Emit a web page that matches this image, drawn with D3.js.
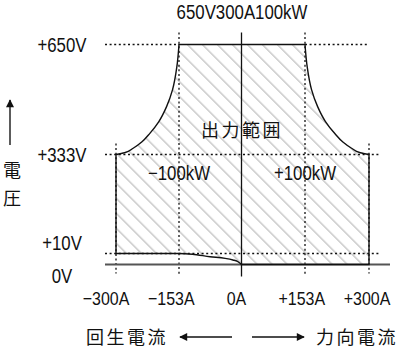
<!DOCTYPE html>
<html>
<head>
<meta charset="utf-8">
<script src="https://cdn.jsdelivr.net/npm/d3@7"></script>
<style>
  html, body { margin: 0; padding: 0; background: #fff; }
  svg { display: block; }
  .num { font-family: "Liberation Sans Narrow", "Arial Narrow", "Liberation Sans", sans-serif; font-size: 20px; fill: #111; }
  .xlab { font-size: 19px; }
  .cjk { font-family: "Noto Sans CJK JP", sans-serif; font-size: 18px; fill: #111; }
</style>
</head>
<body>
<svg id="chart" width="400" height="351"></svg>
<script>
// ---- data ----
const title = "650V300A100kW";
const currentTicks = [-300, -153, 0, 153, 300];
const currentLabels = ["−300A", "−153A", "0A", "+153A", "+300A"];
const voltageTicks = [0, 10, 333, 650];
const voltageLabels = ["0V", "+10V", "+333V", "+650V"];
// boundary of the output range (current A, voltage V)
const leftCurveI  = [-300, -280, -260, -240, -221, -200, -182, -168, -158, -153];
const leftCurveV  = [333, 338, 351, 369, 394, 428, 471, 520, 586, 650];
const rightCurveI = [153, 158, 168, 182, 200, 221, 240, 260, 280, 300];
const rightCurveV = [650, 586, 520, 471, 428, 394, 369, 351, 338, 333];
const bottomCurveI = [0, -10, -21, -40, -77, -120, -153, -300];
const bottomCurveV = [0, 2.8, 4.1, 5.6, 7.1, 9.3, 10, 10];
const powerLabels = ["−100kW", "+100kW"];
const powerAt = [-153, 153];
const regionLabel = "出力範囲";
const axisTitleY = ["電", "圧"];
const regenLabel = "回生電流";
const powerRunLabel = "力向電流";

// ---- scales ----
const x = d3.scaleLinear().domain([-300, -153, 0, 153, 300]).range([116, 179, 241.5, 305, 369]);
const y = d3.scaleLinear().domain([0, 10, 333, 650]).range([264.5, 253.5, 154.5, 44.5]);
const xLab = d3.scalePoint().domain(currentLabels).range([106, 367]);

const svg = d3.select("#chart");
const defs = svg.append("defs");
defs.append("pattern")
  .attr("id", "hatch")
  .attr("patternUnits", "userSpaceOnUse")
  .attr("width", 10.6).attr("height", 10.6)
  .attr("patternTransform", "rotate(45)")
  .append("line")
  .attr("x1", 0).attr("y1", 5).attr("x2", 10.6).attr("y2", 5)
  .attr("stroke", "#b4b4b4").attr("stroke-width", 1.1);
defs.append("marker")
  .attr("id", "arrow").attr("viewBox", "0 0 10 10")
  .attr("refX", 9).attr("refY", 5)
  .attr("markerWidth", 11).attr("markerHeight", 8)
  .attr("markerUnits", "userSpaceOnUse")
  .attr("orient", "auto")
  .append("path").attr("d", "M0,0 L10,5 L0,10 Z").attr("fill", "#111");

const leftPts = leftCurveI.map((d, i) => [d, leftCurveV[i]]);
const rightPts = rightCurveI.map((d, i) => [d, rightCurveV[i]]);
const bottomPts = bottomCurveI.map((d, i) => [d, bottomCurveV[i]]);

const lineC = d3.line().x(d => x(d[0])).y(d => y(d[1])).curve(d3.curveMonotoneY);
const lineB = d3.line().x(d => x(d[0])).y(d => y(d[1])).curve(d3.curveMonotoneX);

const fullPath =
  "M" + x(-300) + "," + y(10) + "L" + x(-300) + "," + y(333) +
  lineC(leftPts).replace(/^M/, "L") +
  "L" + x(153) + "," + y(650) +
  lineC(rightPts).replace(/^M/, "L") +
  "L" + x(300) + "," + y(0) +
  "L" + x(0) + "," + y(0) +
  lineB(bottomPts).replace(/^M/, "L") + "Z";

svg.append("path").attr("d", fullPath).attr("fill", "url(#hatch)").attr("stroke", "none");

// ---- dotted guides ----
const dash = "2,2.6";
const g = svg.append("g").attr("stroke", "#111").attr("stroke-width", 1.3).attr("stroke-dasharray", dash).attr("fill", "none");
g.append("line").attr("x1", 105).attr("x2", x(-153)).attr("y1", y(650)).attr("y2", y(650));
g.append("line").attr("x1", x(153)).attr("x2", x(300)).attr("y1", y(650)).attr("y2", y(650));
[333, 10].forEach(v => g.append("line").attr("x1", 105).attr("x2", x(300) + 11).attr("y1", y(v)).attr("y2", y(v)));
[-153, 153].forEach(c => g.append("line").attr("x1", x(c)).attr("x2", x(c)).attr("y1", y(650) - 12).attr("y2", y(0) + 11));
[-300, 300].forEach(c => g.append("line").attr("x1", x(c)).attr("x2", x(c)).attr("y1", y(333) - 11).attr("y2", y(0) + 9));

// zero axis
svg.append("line").attr("x1", 105).attr("x2", 390).attr("y1", y(0)).attr("y2", y(0))
  .attr("stroke", "#555").attr("stroke-width", 1.8);
// 0A axis
svg.append("line").attr("x1", x(0)).attr("x2", x(0)).attr("y1", y(650) - 12).attr("y2", y(0) + 12)
  .attr("stroke", "#111").attr("stroke-width", 1.3);

// outline
const outlinePath =
  "M" + x(0) + "," + y(0) + lineB(bottomPts).replace(/^M/, "L") +
  "L" + x(-300) + "," + y(333) +
  lineC(leftPts).replace(/^M/, "L") +
  "L" + x(153) + "," + y(650) +
  lineC(rightPts).replace(/^M/, "L") +
  "L" + x(300) + "," + y(0) + "Z";
svg.append("path").attr("d", outlinePath).attr("fill", "none").attr("stroke", "#111").attr("stroke-width", 1.4);

// ---- texts ----
svg.append("text").attr("class", "num").attr("x", 242).attr("y", 19).attr("text-anchor", "middle").text(title);

const yOffsets = { 0: 11, 10: -11 };
svg.selectAll(".ylab").data(voltageTicks).join("text")
  .attr("class", "num ylab")
  .attr("x", 62)
  .attr("y", d => y(d) + (yOffsets[d] || 0))
  .attr("dy", "0.35em")
  .attr("text-anchor", "middle")
  .text((d, i) => voltageLabels[i]);

svg.selectAll(".xlab").data(currentLabels).join("text")
  .attr("class", "num xlab")
  .attr("x", d => xLab(d))
  .attr("y", 305)
  .attr("text-anchor", "middle")
  .text(d => d);

svg.selectAll(".plab").data(powerLabels).join("text")
  .attr("class", "num plab")
  .attr("x", (d, i) => x(powerAt[i]))
  .attr("y", 180)
  .attr("text-anchor", "middle")
  .text(d => d);

// condense the Latin text to mimic a narrow face
svg.selectAll("text.num").each(function () {
  const len = this.getComputedTextLength();
  d3.select(this).attr("textLength", len * 0.84).attr("lengthAdjust", "spacingAndGlyphs");
});

svg.append("text").attr("class", "cjk").attr("x", 242).attr("y", 137)
  .attr("text-anchor", "middle").attr("letter-spacing", "2.5px").text(regionLabel);

svg.selectAll(".ytitle").data(axisTitleY).join("text")
  .attr("class", "cjk ytitle")
  .attr("x", 12).attr("y", (d, i) => 177 + i * 28)
  .attr("text-anchor", "middle").text(d => d);
svg.append("line").attr("x1", 10).attr("x2", 10).attr("y1", 145).attr("y2", 100)
  .attr("stroke", "#333").attr("stroke-width", 1.6).attr("marker-end", "url(#arrow)");

svg.append("text").attr("class", "cjk").attr("x", 127).attr("y", 344)
  .attr("text-anchor", "middle").attr("letter-spacing", "2.5px").text(regenLabel);
svg.append("text").attr("class", "cjk").attr("x", 357).attr("y", 344)
  .attr("text-anchor", "middle").attr("letter-spacing", "2.5px").text(powerRunLabel);
svg.append("line").attr("x1", 232).attr("x2", 180).attr("y1", 337).attr("y2", 337)
  .attr("stroke", "#111").attr("stroke-width", 1.3).attr("marker-end", "url(#arrow)");
svg.append("line").attr("x1", 252).attr("x2", 304).attr("y1", 337).attr("y2", 337)
  .attr("stroke", "#111").attr("stroke-width", 1.3).attr("marker-end", "url(#arrow)");
</script>
</body>
</html>
